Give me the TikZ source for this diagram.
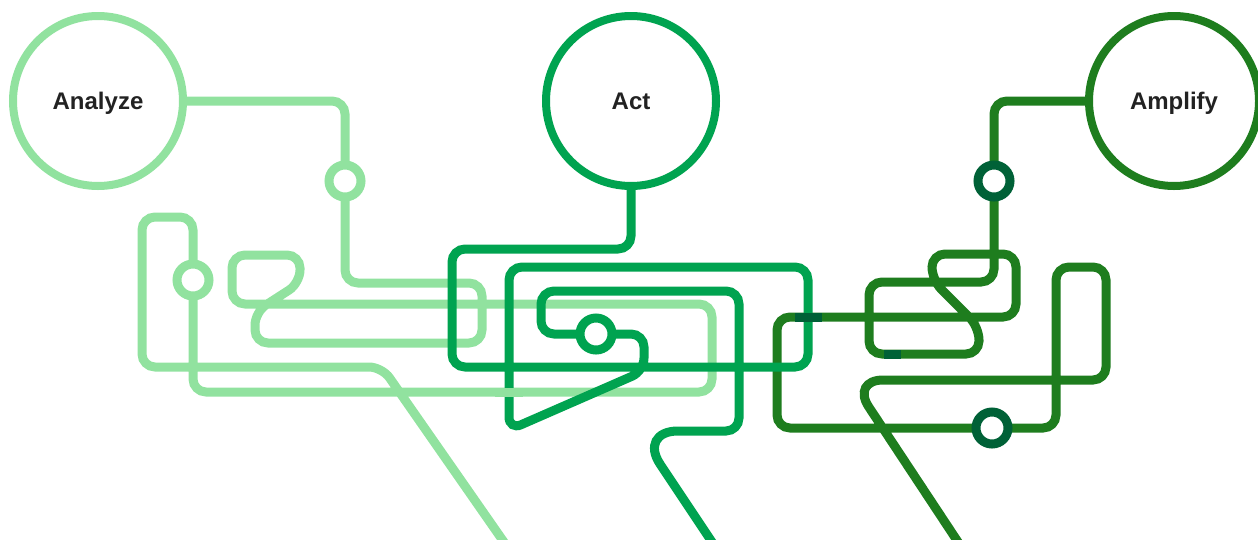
\documentclass[tikz,border=0pt]{standalone}
\usepackage{fontspec}
\usepackage{tikz}
\usetikzlibrary{backgrounds}
\newfontfamily\hubfont{Liberation Sans}[Scale=1]
\definecolor{analyzegreen}{HTML}{91E29F}
\definecolor{actgreen}{HTML}{00A350}
\definecolor{ampgreen}{HTML}{1E7D1E}
\definecolor{deepgreen}{HTML}{006137}
\definecolor{inkgrey}{HTML}{222222}
\tikzset{
  % cirklar
  hub/.style={circle,draw=#1,line width=8pt,fill=white,inner sep=0pt,
              minimum size=170pt,text=inkgrey,text height=17pt,text depth=0pt,
              font=\hubfont\bfseries\fontsize{24}{28}\selectfont},
  stn/.style={circle,draw=#1,line width=9pt,fill=white,inner sep=0pt,
              minimum size=32pt},
  % spår
  track/.style={draw=#1,line width=9pt,rounded corners=13pt},
  seam/.style={fill=#1,draw=none},
}
\begin{document}
\begin{tikzpicture}[x=1pt,y=-1pt]
\useasboundingbox (0,0) rectangle (1258,539);
  \node[hub=analyzegreen] (analyze) at (98,101) {Analyze};
  \node[hub=actgreen] (act) at (631,101) {Act};
  \node[hub=ampgreen] (amplify) at (1174,101) {Amplify};
  \node[stn=analyzegreen] (s1) at (345,181) {};
  \node[stn=analyzegreen] (s2) at (193,280) {};
  \node[stn=actgreen] (s3) at (596,334) {};
  \node[stn=deepgreen] (s4) at (994,181) {};
  \node[stn=deepgreen] (s5) at (992,428) {};
  \coordinate (anaend) at (506,545);
  \coordinate (actend) at (714,545);
  \coordinate (ampend) at (960,545);
  \begin{scope}[on background layer]
  \draw[track=analyzegreen] (analyze.east) -- (345,101) -- (s1.center) -- (345,283)
    -- (482,283) -- (482,343) -- (255,343) -- (255,312) -- (300,283) -- (300,255)
    -- (232,255) -- (232,304) -- (712,304) -- (712,392) -- (193,392) -- (s2.center)
    -- (193,217) -- (142,217) -- (142,367) -- (382,367) -- (anaend);
  \draw[track=ampgreen] (amplify.west) -- (994,101) -- (s4.center) -- (994,282)
    -- (869,282) -- (869,354) -- (979,354) -- (979,327) -- (932,280) -- (932,254)
    -- (1016,254) -- (1016,317) -- (777,317) -- (777,428) -- (s5.center) -- (1056,428)
    -- (1056,267) -- (1106,267) -- (1106,380) -- (940,380)
    [rounded corners=32pt] -- (851,380) -- (ampend);
  \draw[track=actgreen] (act.south) -- (631,249) -- (452,249) -- (452,367)
    -- (808,367) -- (808,267) -- (509,267) -- (509,430) -- (644,371) -- (644,334)
    -- (s3.center) -- (541,334) -- (541,291) -- (739,291) -- (739,431) -- (700,431)
    [rounded corners=40pt] -- (638,431) -- (actend);
  \draw[track=analyzegreen] (495,392) -- (523,392);
  \fill[seam=deepgreen] (795,313) rectangle (822,322);
  \fill[seam=deepgreen] (884,350) rectangle (901,359);
  \end{scope}
\end{tikzpicture}
\end{document}
